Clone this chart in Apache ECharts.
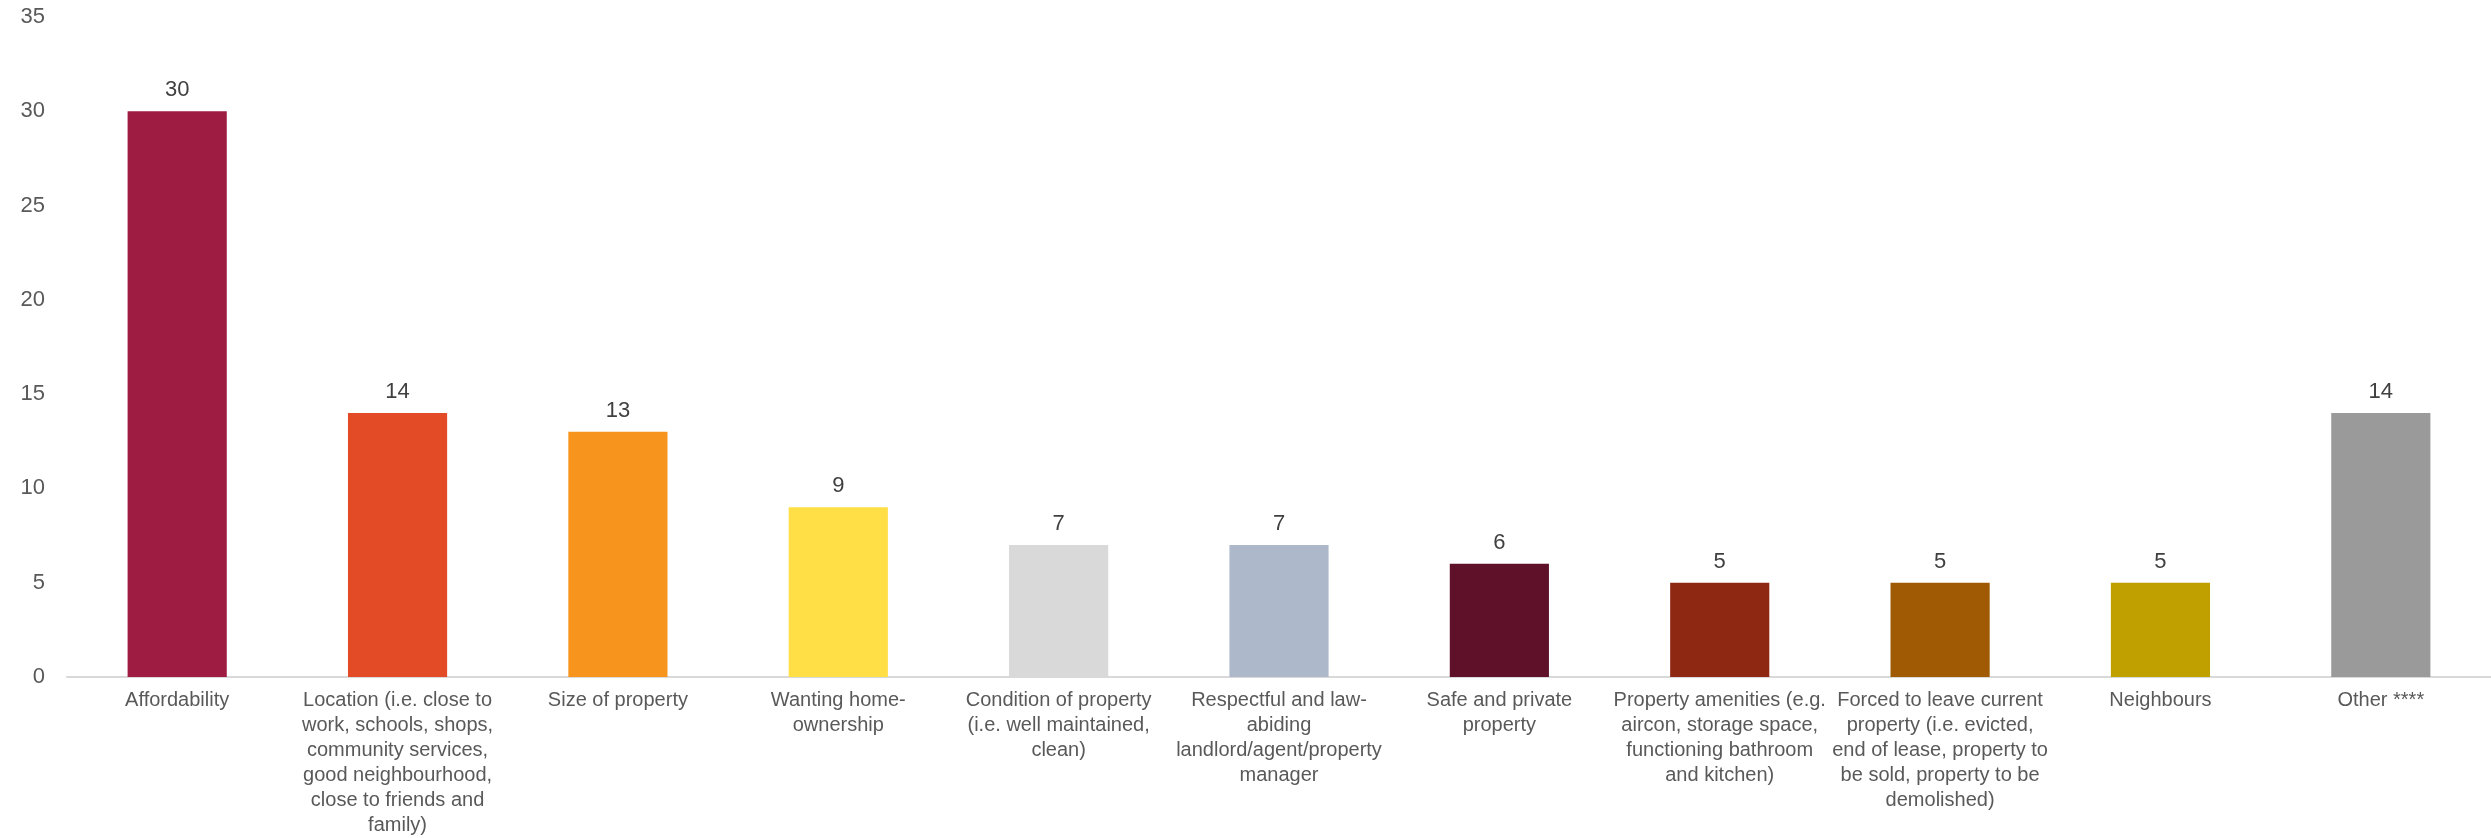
<!DOCTYPE html>
<html>
<head>
<meta charset="utf-8">
<title>Reasons for choosing current home</title>
<script src="https://cdn.jsdelivr.net/npm/echarts@6/dist/echarts.min.js"></script>
<style>
  html, body { margin: 0; padding: 0; background: #ffffff; }
  #chart { width: 2491px; height: 838px; }
</style>
</head>
<body>
<div id="chart"></div>
<script>
// Reasons, with line breaks as they wrap under each bar
const categories = [
  "Affordability",
  "Location (i.e. close to\nwork, schools, shops,\ncommunity services,\ngood neighbourhood,\nclose to friends and\nfamily)",
  "Size of property",
  "Wanting home-\nownership",
  "Condition of property\n(i.e. well maintained,\nclean)",
  "Respectful and law-\nabiding\nlandlord/agent/property\nmanager",
  "Safe and private\nproperty",
  "Property amenities (e.g.\naircon, storage space,\nfunctioning bathroom\nand kitchen)",
  "Forced to leave current\nproperty (i.e. evicted,\nend of lease, property to\nbe sold, property to be\ndemolished)",
  "Neighbours",
  "Other ****"
];

// Share of respondents (%)
const values = [30, 14, 13, 9, 7, 7, 6, 5, 5, 5, 14];

// One colour per bar
const barColors = [
  "#9E1B42", "#E34A26", "#F7941E", "#FFDF45", "#D9D9D9", "#ADB8CA",
  "#5E1128", "#8E2813", "#A05A04", "#C09F00", "#9A9A9A"
];

const yTicks = { min: 0, max: 35, interval: 5 };

const chart = echarts.init(document.getElementById("chart"), null, { renderer: "canvas" });

const fontFamily = "'Liberation Sans', Arial, sans-serif";

chart.setOption({
  animation: false,
  backgroundColor: "#ffffff",
  grid: { left: 67, top: 17, width: 2429, bottom: 158, containLabel: false },
  xAxis: {
    type: "category",
    data: categories,
    axisLine: { show: true, lineStyle: { color: "#D9D9D9", width: 2 } },
    axisTick: { show: false },
    axisLabel: {
      interval: 0,
      margin: 11,
      color: "#595959",
      fontFamily: fontFamily,
      fontSize: 20,
      lineHeight: 25,
      align: "center"
    }
  },
  yAxis: {
    type: "value",
    min: yTicks.min,
    max: yTicks.max,
    interval: yTicks.interval,
    axisLine: { show: false },
    axisTick: { show: false },
    splitLine: { show: false },
    axisLabel: {
      margin: 22,
      color: "#595959",
      fontFamily: fontFamily,
      fontSize: 22
    }
  },
  series: [{
    type: "bar",
    data: values.map((v, i) => ({ value: v, itemStyle: { color: barColors[i] } })),
    barWidth: "45%",
    label: {
      show: true,
      position: "top",
      distance: 10,
      color: "#404040",
      fontFamily: fontFamily,
      fontSize: 22
    }
  }]
});
</script>
</body>
</html>
